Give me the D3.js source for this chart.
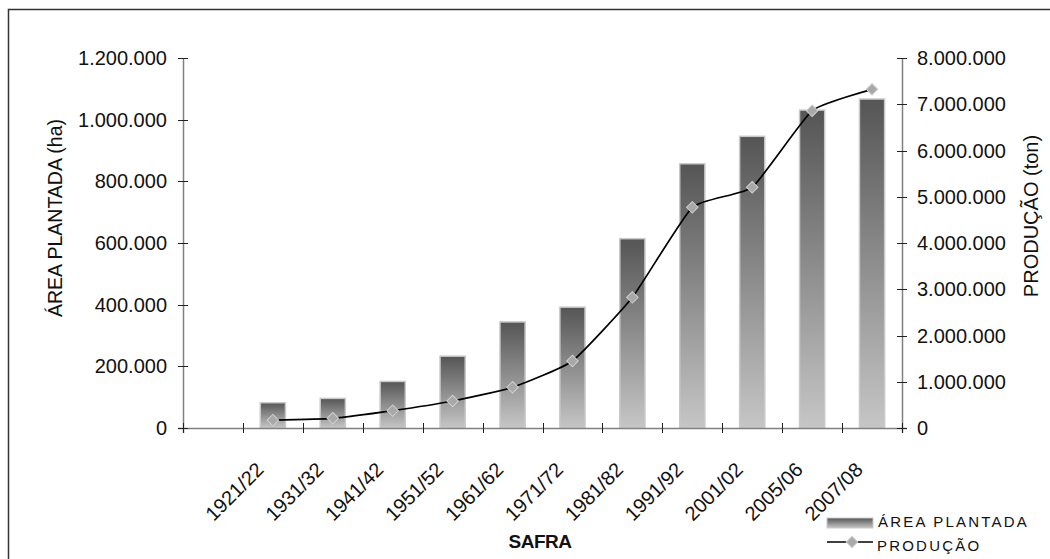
<!DOCTYPE html>
<html>
<head>
<meta charset="utf-8">
<script src="https://cdn.jsdelivr.net/npm/d3@7"></script>
<style>
  html, body { margin: 0; padding: 0; background: #fff; }
  svg { display: block; font-family: "Liberation Sans", Arial, sans-serif; }
</style>
</head>
<body>
<svg id="chart" width="1050" height="559"></svg>
<script>
// Safras (crop years)
const categories = ["1921/22", "1931/32", "1941/42", "1951/52", "1961/62", "1971/72",
                    "1981/82", "1991/92", "2001/02", "2005/06", "2007/08"];
// Área plantada (ha)
const areaPlantada = [82000, 96000, 151000, 233000, 344000, 392000,
                      614000, 857000, 946000, 1031000, 1067000];
// Produção (ton)
const producao = [170000, 210000, 375000, 584000, 880000, 1449000,
                  2825000, 4771000, 5204000, 6861000, 7323000];
// Axis ticks
const leftTicks = [0, 200000, 400000, 600000, 800000, 1000000, 1200000];
const rightTicks = [0, 1000000, 2000000, 3000000, 4000000, 5000000, 6000000, 7000000, 8000000];
// The category axis keeps an empty leading slot before the first safra
const slots = [""].concat(categories);

const svg = d3.select("#chart");
const fmt = d3.formatLocale({ decimal: ",", thousands: ".", grouping: [3], currency: ["", ""] }).format(",d");

const plot = { left: 183, right: 902, top: 58, bottom: 428 };

const x = d3.scaleBand().domain(slots).range([plot.left, plot.right]).paddingInner(0).paddingOuter(0);
const yL = d3.scaleLinear().domain([0, 1200000]).range([plot.bottom, plot.top]);
const yR = d3.scaleLinear().domain([0, 8000000]).range([plot.bottom, plot.top]);

// Outer frame
svg.append("rect")
  .attr("x", 8.5).attr("y", 9.5).attr("width", 1100).attr("height", 700)
  .attr("fill", "none").attr("stroke", "#333").attr("stroke-width", 1.5);

// Bar gradient: dark at the top, light at the base
const defs = svg.append("defs");
const grad = defs.append("linearGradient")
  .attr("id", "barGrad").attr("x1", 0).attr("y1", 0).attr("x2", 0).attr("y2", 1);
grad.append("stop").attr("offset", "0%").attr("stop-color", "#555555");
grad.append("stop").attr("offset", "100%").attr("stop-color", "#c6c6c6");

// Bars
const barW = x.bandwidth() * 0.42;
svg.append("g").selectAll("rect")
  .data(categories)
  .join("rect")
  .attr("x", d => x(d) + x.bandwidth() / 2 - barW / 2)
  .attr("y", (d, i) => yL(areaPlantada[i]))
  .attr("width", barW)
  .attr("height", (d, i) => yL(0) - yL(areaPlantada[i]))
  .attr("fill", "url(#barGrad)")
  .attr("stroke", "#c9c9c9")
  .attr("stroke-width", 1.5);

// Axes lines
const axisColor = "#808080";
svg.append("line")
  .attr("x1", plot.left - 5).attr("x2", plot.right + 5)
  .attr("y1", plot.bottom + 0.5).attr("y2", plot.bottom + 0.5)
  .attr("stroke", axisColor).attr("stroke-width", 1.5);
svg.append("line")
  .attr("x1", plot.left + 0.5).attr("x2", plot.left + 0.5)
  .attr("y1", plot.top).attr("y2", plot.bottom + 5)
  .attr("stroke", axisColor).attr("stroke-width", 1.5);
svg.append("line")
  .attr("x1", plot.right + 0.5).attr("x2", plot.right + 0.5)
  .attr("y1", plot.top).attr("y2", plot.bottom + 5)
  .attr("stroke", axisColor).attr("stroke-width", 1.5);

// Left axis ticks and labels
const gL = svg.append("g");
gL.selectAll("line").data(leftTicks).join("line")
  .attr("x1", plot.left - 5).attr("x2", plot.left + 5)
  .attr("y1", d => Math.round(yL(d)) + 0.5).attr("y2", d => Math.round(yL(d)) + 0.5)
  .attr("stroke", "#222").attr("stroke-width", 1);
gL.selectAll("text").data(leftTicks).join("text")
  .attr("x", plot.left - 16).attr("y", d => yL(d))
  .attr("dy", "0.35em").attr("text-anchor", "end")
  .attr("font-size", 20).attr("fill", "#111")
  .text(d => fmt(d));

// Right axis ticks and labels
const gR = svg.append("g");
gR.selectAll("line").data(rightTicks).join("line")
  .attr("x1", plot.right - 5).attr("x2", plot.right + 5)
  .attr("y1", d => Math.round(yR(d)) + 0.5).attr("y2", d => Math.round(yR(d)) + 0.5)
  .attr("stroke", "#222").attr("stroke-width", 1);
gR.selectAll("text").data(rightTicks).join("text")
  .attr("x", plot.right + 15).attr("y", d => yR(d))
  .attr("dy", "0.35em").attr("text-anchor", "start")
  .attr("font-size", 20).attr("fill", "#111")
  .text(d => fmt(d));

// Category axis ticks (at slot boundaries) and rotated labels
const boundaries = slots.map(s => x(s)).concat([plot.right]);
svg.append("g").selectAll("line").data(boundaries).join("line")
  .attr("x1", d => Math.round(d) + 0.5).attr("x2", d => Math.round(d) + 0.5)
  .attr("y1", plot.bottom - 5).attr("y2", plot.bottom + 5)
  .attr("stroke", "#222").attr("stroke-width", 1);
svg.append("g").selectAll("text").data(categories).join("text")
  .attr("transform", d => `translate(${x(d) + x.bandwidth() / 2 - 8},${plot.bottom + 43}) rotate(-45)`)
  .attr("text-anchor", "end")
  .attr("font-size", 20).attr("fill", "#111")
  .text(d => d);

// Production line (lightly smoothed) with diamond markers
const pts = categories.map((c, i) => [x(c) + x.bandwidth() / 2, yR(producao[i])]);
svg.append("path")
  .attr("d", d3.line().curve(d3.curveCardinal.tension(0.55))(pts))
  .attr("fill", "none").attr("stroke", "#000").attr("stroke-width", 1.7);
svg.append("g").selectAll("path").data(pts).join("path")
  .attr("transform", d => `translate(${d[0]},${d[1]}) rotate(45)`)
  .attr("d", d3.symbol().type(d3.symbolSquare).size(66))
  .attr("fill", "#a8a8a8").attr("stroke", "#d0d0d0").attr("stroke-width", 1);

// Axis titles
svg.append("text")
  .attr("transform", `translate(62,218) rotate(-90)`)
  .attr("text-anchor", "middle").attr("font-size", 19.5).attr("fill", "#111")
  .text("ÁREA PLANTADA (ha)");
svg.append("text")
  .attr("transform", `translate(1038,216) rotate(-90)`)
  .attr("text-anchor", "middle").attr("font-size", 20).attr("fill", "#111")
  .text("PRODUÇÃO (ton)");
svg.append("text")
  .attr("x", 540).attr("y", 548)
  .attr("text-anchor", "middle").attr("font-size", 19).attr("font-weight", "bold")
  .attr("letter-spacing", -0.5).attr("fill", "#111")
  .text("SAFRA");

// Legend
const lg = svg.append("g");
lg.append("rect")
  .attr("x", 827).attr("y", 518).attr("width", 46).attr("height", 10)
  .attr("fill", "url(#barGrad)").attr("stroke", "#c9c9c9").attr("stroke-width", 1);
lg.append("text")
  .attr("x", 878).attr("y", 527).attr("font-size", 15).attr("letter-spacing", 2.2).attr("fill", "#111")
  .text("ÁREA PLANTADA");
lg.append("line")
  .attr("x1", 827).attr("x2", 873).attr("y1", 542).attr("y2", 542)
  .attr("stroke", "#000").attr("stroke-width", 1.7);
lg.append("path")
  .attr("transform", "translate(852,542) rotate(45)")
  .attr("d", d3.symbol().type(d3.symbolSquare).size(66))
  .attr("fill", "#a8a8a8").attr("stroke", "#d0d0d0").attr("stroke-width", 1);
lg.append("text")
  .attr("x", 877).attr("y", 551).attr("font-size", 15).attr("letter-spacing", 2.2).attr("fill", "#111")
  .text("PRODUÇÃO");
</script>
</body>
</html>
